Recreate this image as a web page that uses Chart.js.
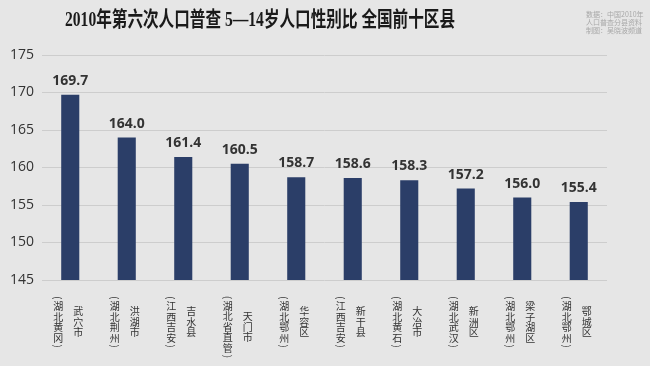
<!DOCTYPE html>
<html>
<head>
<meta charset="utf-8">
<script src="https://cdn.jsdelivr.net/npm/chart.js@4"></script>
<style>
  html, body { margin: 0; padding: 0; background: #e6e6e6; }
  #wrap { width: 650px; height: 366px; position: relative; }
</style>
</head>
<body>
<div id="wrap"><canvas id="chart"></canvas></div>
<script>
const titleText = "2010年第六次人口普查 5—14岁人口性别比 全国前十区县";
const sourceLines = ["数据：中国2010年", "人口普查分县资料", "制图：吴晓波频道"];

const countyNames = ["武穴市", "洪湖市", "吉水县", "天门市", "华容区", "新干县", "大冶市", "新洲区", "梁子湖区", "鄂城区"];
const countyRegions = ["(湖北黄冈)", "(湖北荆州)", "(江西吉安)", "(湖北省直管)", "(湖北鄂州)", "(江西吉安)", "(湖北黄石)", "(湖北武汉)", "(湖北鄂州)", "(湖北鄂州)"];
const sexRatio = [169.7, 164.0, 161.4, 160.5, 158.7, 158.6, 158.3, 157.2, 156.0, 155.4];
const yTicks = [145, 150, 155, 160, 165, 170, 175];

const cjkFont = '"Noto Sans CJK SC", "Noto Sans", sans-serif';

// draws one vertical column of glyphs centred on (x, cy)
function drawColumn(ctx, text, x, cy, step, parenStep) {
  const chars = Array.from(text);
  const steps = chars.map(c => (c === "(" || c === ")") ? parenStep : step);
  const total = steps.reduce((a, b) => a + b, 0);
  let y = cy - total / 2;
  chars.forEach((c, i) => {
    const mid = y + steps[i] / 2;
    if (c === "(" || c === ")") {
      ctx.save();
      ctx.translate(x, mid);
      ctx.rotate(Math.PI / 2);
      ctx.fillText(c, 0, 0);
      ctx.restore();
    } else {
      ctx.fillText(c, x, mid);
    }
    y += steps[i];
  });
}

const decorations = {
  id: "decorations",
  afterDraw(chart) {
    const ctx = chart.ctx;
    const xs = chart.scales.x;
    const ys = chart.scales.y;
    ctx.save();

    // title, squeezed horizontally like the reference
    ctx.font = 'bold 21px "Liberation Serif", ' + cjkFont;
    ctx.fillStyle = "#1a1a1a";
    ctx.textBaseline = "middle";
    ctx.textAlign = "center";
    const tw = ctx.measureText(titleText).width;
    ctx.save();
    ctx.translate(260, 21);
    ctx.scale(390 / tw, 1);
    ctx.fillText(titleText, 0, 0);
    ctx.restore();

    // source note
    ctx.font = "7px " + cjkFont;
    ctx.fillStyle = "#a8a8a8";
    ctx.textAlign = "left";
    sourceLines.forEach((s, i) => ctx.fillText(s, 586, 14 + i * 8));

    // value labels
    ctx.font = 'bold 14px "Open Sans", sans-serif';
    ctx.fillStyle = "#333333";
    ctx.textAlign = "center";
    ctx.textBaseline = "alphabetic";
    sexRatio.forEach((v, i) => {
      ctx.fillText(v.toFixed(1), xs.getPixelForValue(i), ys.getPixelForValue(v) - 10);
    });

    // vertical category labels
    ctx.font = "10px " + cjkFont;
    ctx.fillStyle = "#333333";
    ctx.textBaseline = "middle";
    countyNames.forEach((name, i) => {
      const cx = xs.getPixelForValue(i);
      const region = countyRegions[i];
      const cy = 322 + (region.length - 6) * 5;
      drawColumn(ctx, region, cx - 12, cy, 10.5, 6.5);
      drawColumn(ctx, name, cx + 8, cy, 10.5, 6.5);
    });

    ctx.restore();
  }
};

new Chart(document.getElementById("chart"), {
  type: "bar",
  data: {
    labels: countyNames,
    datasets: [{
      data: sexRatio,
      backgroundColor: "#2b3e68",
      borderWidth: 0,
      barPercentage: 0.32,
      categoryPercentage: 1.0
    }]
  },
  options: {
    responsive: true,
    maintainAspectRatio: false,
    animation: false,
    layout: { padding: { top: 55, bottom: 86, left: 0, right: 43 } },
    plugins: {
      legend: { display: false },
      tooltip: { enabled: false }
    },
    scales: {
      x: {
        ticks: { display: false },
        grid: { display: false },
        border: { display: false },
        afterFit: scale => { scale.height = 0; }
      },
      y: {
        min: 145,
        max: 175,
        afterBuildTicks: scale => { scale.ticks = yTicks.map(v => ({ value: v })); },
        afterFit: scale => { scale.width = 42; },
        grid: { color: "#cdcdcd", lineWidth: 1, drawTicks: false },
        border: { display: false },
        ticks: {
          color: "#333333",
          padding: 8,
          font: { family: '"Open Sans", sans-serif', size: 14 }
        }
      }
    }
  },
  plugins: [decorations]
});
</script>
</body>
</html>
